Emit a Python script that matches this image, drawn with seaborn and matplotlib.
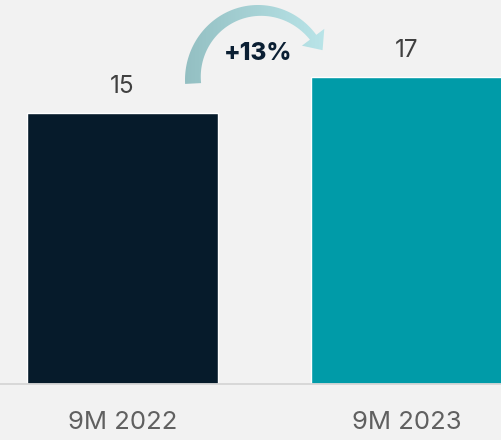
import numpy as np
import pandas as pd
import matplotlib
matplotlib.use("Agg")
import matplotlib.pyplot as plt
from matplotlib.path import Path
from matplotlib.patches import PathPatch
import seaborn as sns

# Chart data
periods = ["9M 2022", "9M 2023"]
values = [15, 17]
bar_colors = ["#061b2b", "#009ba8"]
growth_label = "+13%"

BG = "#f2f2f2"
W, H, DPI = 501, 440, 100

sns.set_theme(style="white")
plt.rcParams["font.family"] = ["Inter", "DejaVu Sans"]

df = pd.DataFrame({"period": periods, "value": values})

fig = plt.figure(figsize=(W / DPI, H / DPI), dpi=DPI, facecolor=BG)
ax = fig.add_axes([0, 56 / H, 1, 1 - 56 / H])
ax.set_facecolor(BG)

sns.barplot(data=df, x="period", y="value", hue="period", palette=bar_colors,
            width=0.673, dodge=False, legend=False, saturation=1, ax=ax)

ax.set_xlim(-122.5 / 284, (W - 122.5) / 284)
ax.set_ylim(0, 384 / 18.07)

for s in ["top", "right", "left"]:
    ax.spines[s].set_visible(False)
ax.spines["bottom"].set_color("#d6d6d6")
ax.spines["bottom"].set_linewidth(1.3)
ax.set_yticks([])
ax.set_xlabel("")
ax.set_ylabel("")
ax.tick_params(axis="x", length=0, pad=19.5, labelsize=18.5, labelcolor="#606060")

# Value labels above bars
for i, v in enumerate(values):
    ax.annotate(f"{v}", (i, v), xytext=(0, 11), textcoords="offset points",
                ha="center", va="bottom", fontsize=17.5, color="#404040")

# Curved growth arrow in pixel coordinates
ov = fig.add_axes([0, 0, 1, 1], zorder=5)
ov.set_xlim(0, W)
ov.set_ylim(H, 0)
ov.axis("off")
ov.patch.set_alpha(0)

cx, cy, rx, ry = 258, 80, 73, 75
theta = np.linspace(np.radians(183), np.radians(37), 80)
thick = np.linspace(16, 8, theta.size)
ox = cx + rx * np.cos(theta)
oy = cy - ry * np.sin(theta)
ix = cx + (rx - thick) * np.cos(theta)
iy = cy - (ry - thick) * np.sin(theta)

# arrow head at the end of the arc
ex_o, ey_o = ox[-1], oy[-1]
ex_i, ey_i = ix[-1], iy[-1]
mx, my = (ex_o + ex_i) / 2, (ey_o + ey_i) / 2
tang = np.array([np.sin(theta[-1]) * rx, np.cos(theta[-1]) * ry])
tang = tang / np.hypot(*tang)
norm = np.array([(ex_o - ex_i), (ey_o - ey_i)])
norm = norm / np.hypot(*norm)
head_half = 14
tip = (mx + tang[0] * 16, my + tang[1] * 16)
h1 = (mx + norm[0] * head_half, my + norm[1] * head_half)
h2 = (mx - norm[0] * head_half, my - norm[1] * head_half)

verts = list(zip(ox, oy)) + [h1, tip, h2] + list(zip(ix[::-1], iy[::-1]))
verts.append(verts[0])
codes = [Path.MOVETO] + [Path.LINETO] * (len(verts) - 2) + [Path.CLOSEPOLY]
arrow_patch = PathPatch(Path(verts, codes), facecolor="none", edgecolor="none")
ov.add_patch(arrow_patch)

c0 = np.array(matplotlib.colors.to_rgb("#92bec1"))
c1 = np.array(matplotlib.colors.to_rgb("#bfeaee"))
t = np.linspace(0, 1, 256)
grad = (c0[None, :] * (1 - t[:, None]) + c1[None, :] * t[:, None])[None, :, :]
im = ov.imshow(grad, extent=(180, 345, 90, 0), aspect="auto", interpolation="bilinear")
im.set_clip_path(arrow_patch)
ov.set_xlim(0, W)
ov.set_ylim(H, 0)

ov.text(258, 53, growth_label, ha="center", va="center", fontsize=17.5,
        fontweight="heavy", color="#0b1f33")

fig.savefig("out.png", dpi=DPI, facecolor=BG)
